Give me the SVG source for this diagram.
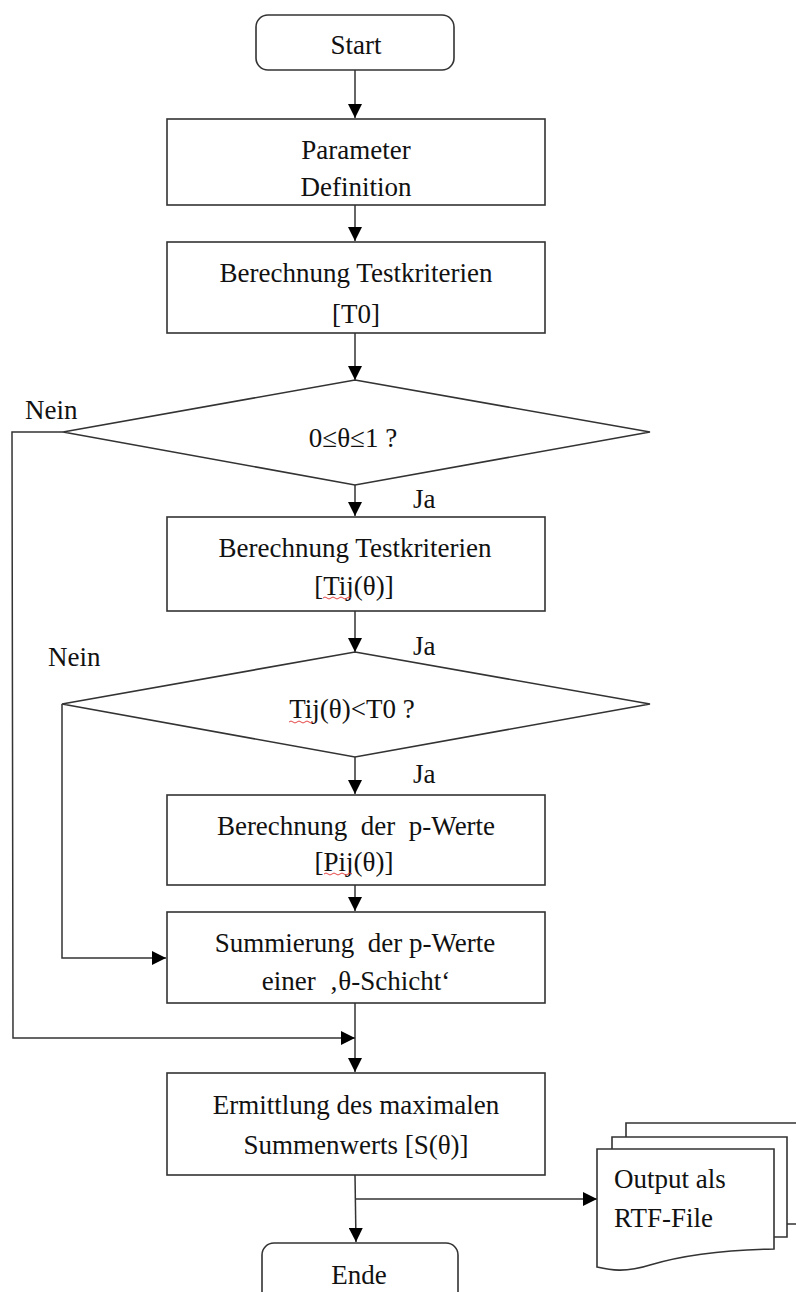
<svg xmlns="http://www.w3.org/2000/svg" width="796" height="1292" viewBox="0 0 796 1292">
<style>
.s{fill:#fff;stroke:#333;stroke-width:1.6}
.l{fill:none;stroke:#333;stroke-width:1.5}
.t{font-family:"Liberation Serif","Times New Roman",serif;font-size:27px;fill:#111}
.c{text-anchor:middle}
.sq{fill:none;stroke:#e03030;stroke-width:0.9}
</style>
<defs>
<marker id="a" markerUnits="userSpaceOnUse" markerWidth="14" markerHeight="14" viewBox="0 0 14 14" refX="14" refY="7" orient="auto">
<path d="M0,0 L14,7 L0,14 Z" fill="#000"/>
</marker>
</defs>
<g id="connectors">
<line class="l" x1="355" y1="70" x2="355" y2="118" marker-end="url(#a)"/>
<line class="l" x1="355" y1="205" x2="355" y2="241" marker-end="url(#a)"/>
<line class="l" x1="355" y1="333" x2="355" y2="380" marker-end="url(#a)"/>
<line class="l" x1="355" y1="485" x2="355" y2="516" marker-end="url(#a)"/>
<line class="l" x1="355" y1="611" x2="355" y2="652" marker-end="url(#a)"/>
<line class="l" x1="355" y1="757" x2="355" y2="794" marker-end="url(#a)"/>
<line class="l" x1="355" y1="885" x2="355" y2="911" marker-end="url(#a)"/>
<line class="l" x1="355" y1="1003" x2="355" y2="1072" marker-end="url(#a)"/>
<line class="l" x1="355" y1="1175" x2="356" y2="1242" marker-end="url(#a)"/>
<polyline class="l" points="355,1199 597,1199" marker-end="url(#a)"/>
<polyline class="l" points="63,432 12,432 13,1038 355,1038" marker-end="url(#a)"/>
<polyline class="l" points="62,704 62,958 166,958" marker-end="url(#a)"/>
<text class="t" x="25" y="419">Nein</text>
<text class="t" x="413" y="508">Ja</text>
<text class="t" x="413" y="655">Ja</text>
<text class="t" x="48" y="666">Nein</text>
<text class="t" x="413" y="783">Ja</text>
</g>
<g id="start">
<rect class="s" x="256" y="15" width="198" height="55" rx="12"/>
<text class="t c" x="356" y="54">Start</text>
</g>
<g id="param">
<rect class="s" x="167" y="119" width="378" height="86"/>
<text class="t c" x="356" y="159">Parameter</text>
<text class="t c" x="356" y="196">Definition</text>
</g>
<g id="t0">
<rect class="s" x="167" y="242" width="378" height="91"/>
<text class="t c" x="356" y="282">Berechnung Testkriterien</text>
<text class="t c" x="356" y="323">[T0]</text>
</g>
<g id="dec1">
<polygon class="s" points="355,380 650,432 355,485 63,432"/>
<text class="t c" x="353" y="447">0≤θ≤1 ?</text>
</g>
<g id="tij">
<rect class="s" x="167" y="517" width="378" height="94"/>
<text class="t c" x="355" y="557">Berechnung Testkriterien</text>
<text class="t c" x="354" y="595">[Tij(θ)]</text>
</g>
<g id="dec2">
<polygon class="s" points="355,652 650,704 355,757 62,704"/>
<text class="t c" x="352" y="718">Tij(θ)&lt;T0 ?</text>
</g>
<g id="pwerte">
<rect class="s" x="167" y="795" width="378" height="90"/>
<text class="t c" x="356" y="835" xml:space="preserve">Berechnung  der  p-Werte</text>
<text class="t c" x="354" y="871">[Pij(θ)]</text>
</g>
<g id="summe">
<rect class="s" x="167" y="912" width="378" height="91"/>
<text class="t c" x="355" y="952" xml:space="preserve">Summierung  der p-Werte</text>
<text class="t c" x="356" y="990" xml:space="preserve">einer  ‚θ-Schicht‘</text>
</g>
<g id="max">
<rect class="s" x="167" y="1073" width="378" height="102"/>
<text class="t c" x="356" y="1114">Ermittlung des maximalen</text>
<text class="t c" x="356" y="1154">Summenwerts [S(θ)]</text>
</g>
<g id="ende">
<rect class="s" x="262" y="1243" width="196" height="70" rx="12"/>
<text class="t c" x="359" y="1284">Ende</text>
</g>
<g id="output">
<path class="s" d="M626,1137 L626,1123 L800,1123 L800,1224 L787,1224"/>
<path class="s" d="M612,1149 L612,1137 L787,1137 L787,1237 L774,1237"/>
<path class="s" d="M597,1149 L774,1149 L774,1249 C720,1250 680,1256 650,1265 C625,1273 610,1270 597,1267 Z"/>
<text class="t" x="614" y="1188">Output als</text>
<text class="t" x="614" y="1227">RTF-File</text>
</g>
<g id="spell">
<path class="sq" d="M323,598 q2,-2 4,0 t4,0 t4,0 t4,0 t4,0 t4,0 t4,0"/>
<path class="sq" d="M289,722 q2,-2 4,0 t4,0 t4,0 t4,0 t4,0 t4,0"/>
<path class="sq" d="M324,874 q2,-2 4,0 t4,0 t4,0 t4,0 t4,0 t4,0 t4,0"/>
</g>
</svg>
